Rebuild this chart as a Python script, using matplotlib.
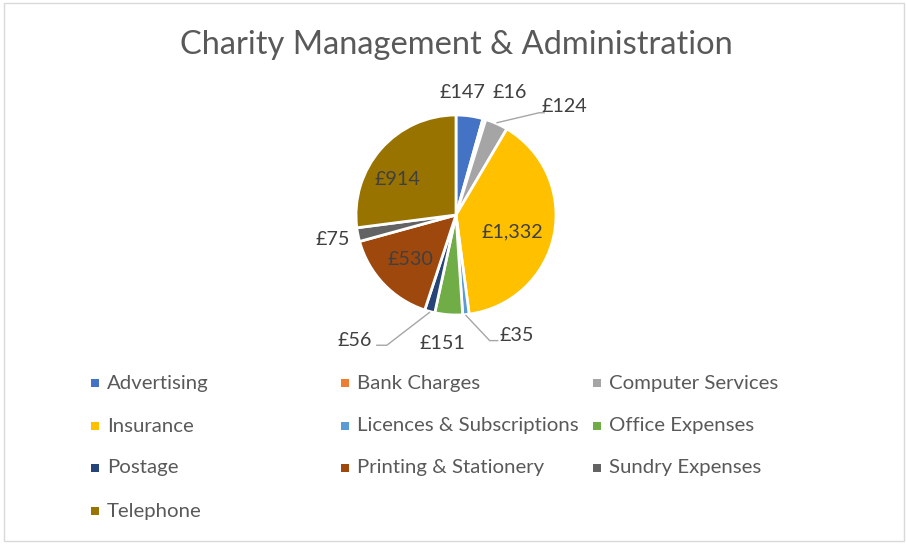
import matplotlib
matplotlib.use("Agg")
import matplotlib.pyplot as plt
from matplotlib.patches import Rectangle
import numpy as np

categories = ["Advertising", "Bank Charges", "Computer Services", "Insurance",
              "Licences & Subscriptions", "Office Expenses", "Postage",
              "Printing & Stationery", "Sundry Expenses", "Telephone"]
values = [147, 16, 124, 1332, 35, 151, 56, 530, 75, 914]
colors = ["#4472C4", "#ED7D31", "#A5A5A5", "#FFC000", "#5B9BD5",
          "#70AD47", "#264478", "#9E480E", "#636363", "#997300"]
title = "Charity Management & Administration"

# label placement style: (radius, angle shift deg, leader)
label_style = {
    "Advertising": (1.23, 5, None),
    "Bank Charges": (1.34, -7, None),
    "Computer Services": (1.53, -21, "right"),
    "Insurance": (0.585, -5, None),
    "Licences & Subscriptions": (1.35, 21, "left"),
    "Office Expenses": (1.29, -2, None),
    "Postage": (1.61, -23.7, "right_end"),
    "Printing & Stationery": (0.64, 1, None),
    "Sundry Expenses": (1.255, 0, None),
    "Telephone": (0.68, 10, None),
}

W, H = 906, 544
FONT = "Lato"
fig = plt.figure(figsize=(W / 100, H / 100), dpi=100)
fig.patch.set_facecolor("white")

def fx(x):
    return x / W

def fy(y):
    return 1 - y / H

# border
fig.add_artist(Rectangle((fx(4), fy(541)), fx(900), 538 / H, transform=fig.transFigure,
                         fill=False, edgecolor="#d9d9d9", linewidth=1))

fig.text(fx(456), fy(45), title, ha="center", va="center", fontsize=23.5,
         color="#595959", family=FONT)

cx, cy, R = 456, 215, 100
half = 150
ax = fig.add_axes([fx(cx - half), fy(cy + half), 2 * half / W, 2 * half / H])

wedges, _ = ax.pie(values, colors=colors, startangle=90, counterclock=False,
                   radius=1.0, wedgeprops=dict(edgecolor="white", linewidth=2))
ax.set_xlim(-1.5, 1.5)
ax.set_ylim(-1.5, 1.5)
ax.set_aspect("equal")
ax.axis("off")

for w, cat, v in zip(wedges, categories, values):
    mid = np.deg2rad((w.theta1 + w.theta2) / 2)
    r, shift, leader = label_style[cat]
    a = mid + np.deg2rad(shift)
    tx, ty = r * np.cos(a), r * np.sin(a)
    txt = f"£{v:,}"
    ax.text(tx, ty, txt, ha="center", va="center", fontsize=14.2,
            color="#404040", family=FONT)
    if leader:
        ex, ey = 1.01 * np.cos(mid), 1.01 * np.sin(mid)
        if leader == "right":
            end_x = tx - 0.20
            end_y = ty - 0.06
            ax.plot([ex, end_x - 0.05, end_x], [ey, end_y, end_y],
                    color="#a6a6a6", lw=1)
        elif leader == "left":
            end_x = tx - 0.19
            end_y = ty - 0.05
            ax.plot([ex, end_x - 0.08, end_x], [ey, end_y, end_y],
                    color="#a6a6a6", lw=1)
        else:
            end_x = tx + 0.22
            end_y = ty - 0.05
            ax.plot([ex, end_x + 0.1, end_x], [ey, end_y, end_y],
                    color="#a6a6a6", lw=1)

# legend (manual, Excel-like row-major grid)
col_x = [95, 345, 597]
row_y = [383, 426, 468, 511]
for i, (cat, col) in enumerate(zip(categories, colors)):
    rr, cc = divmod(i, 3)
    mx, my = col_x[cc], row_y[rr]
    fig.add_artist(Rectangle((fx(mx - 4), fy(my + 4)), 8 / W, 8 / H,
                             transform=fig.transFigure, facecolor=col,
                             edgecolor="none"))
    fig.text(fx(mx + 12), fy(my), cat, ha="left", va="center", fontsize=14.7,
             color="#595959", family=FONT)

fig.savefig("out.png", dpi=100, facecolor="white")
